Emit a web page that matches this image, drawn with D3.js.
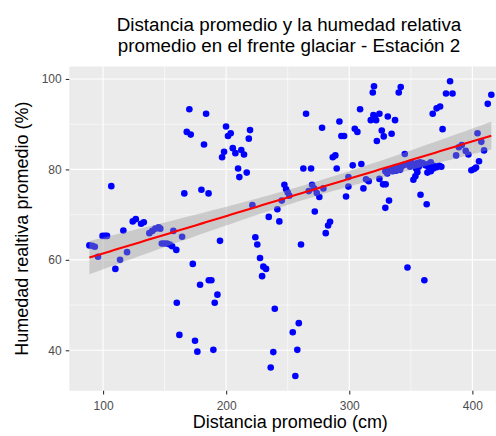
<!DOCTYPE html>
<html>
<head>
<meta charset="utf-8">
<script src="https://cdn.jsdelivr.net/npm/d3@7"></script>
<style>
  body { margin: 0; background: #fff; }
  svg { display: block; font-family: "Liberation Sans", Arial, sans-serif; }
</style>
</head>
<body>
<svg id="chart" width="496" height="436"></svg>
<script>
// distancia promedio (cm) / humedad relativa promedio (%)
var distancia = [170.1,183.7,168.0,171.2,182.0,106.7,166.0,179.9,185.7,124.1,
  126.6,130.9,133.1,116.5,99.6,101.6,103.2,88.9,91.3,93.3,
  95.9,113.8,110.0,119.5,137.6,140.0,142.5,145.2,146.5,147.7,
  149.8,152.0,154.2,156.1,159.5,157.1,164.2,172.9,178.8,185.9,
  159.9,162.0,174.7,176.6,199.9,201.5,203.7,219.4,218.4,198.3,
  196.7,205.4,207.5,212.3,214.5,209.7,210.7,216.7,264.9,277.9,
  292.0,293.6,295.8,286.6,288.7,262.7,269.0,289.8,247.3,248.7,
  250.0,251.3,245.2,269.8,271.4,273.6,275.7,267.1,279.0,221.3,
  234.6,241.6,243.2,272.0,284.4,282.8,280.9,297.4,299.3,320.1,
  319.1,341.8,340.2,381.9,378.6,383.9,415.4,412.5,373.8,371.0,
  367.8,308.8,317.5,319.6,321.8,324.5,320.7,331.3,337.2,304.5,
  306.6,326.4,328.0,334.4,322.4,375.8,404.2,407.3,409.5,405.4,
  399.2,401.4,403.0,386.8,389.0,391.4,394.6,396.8,345.1,302.8,
  309.8,299.3,313.6,315.8,324.5,311.5,327.5,329.6,332.3,329.3,
  357.9,362.9,329.3,331.5,333.7,335.8,338.0,340.2,342.3,344.5,
  346.7,348.8,351.0,353.1,355.3,357.5,359.7,361.8,364.0,366.2,
  368.9,371.0,373.2,374.8,330.9,335.3,338.0,341.3,349.4,354.3,
  356.5,364.6,353.7,355.3,352.1,363.5,366.2,368.3,347.3,361.0,
  195.0,223.7,225.3,260.8,227.5,230.2,232.4,229.2,188.0,192.9,
  190.7,239.5,259.0,254.1,189.6,238.3,257.8,236.2,256.2];

var humedad = [93.3,92.3,88.3,87.7,85.5,76.3,74.7,75.5,74.7,68.5,
  69.0,68.0,68.3,66.5,65.3,65.3,65.3,63.2,63.1,62.9,
  60.7,60.0,58.0,61.7,65.9,66.4,66.9,67.2,66.9,63.6,
  63.6,63.6,63.4,63.0,62.2,66.4,65.1,59.1,54.5,55.5,
  50.5,43.4,42.1,39.7,89.5,87.4,88.0,88.7,86.8,83.9,
  82.7,84.7,83.6,84.3,83.3,80.2,78.3,79.3,92.3,89.2,
  90.6,87.4,87.4,82.7,83.1,80.2,80.2,80.2,76.6,75.6,
  74.9,74.2,73.1,76.6,75.8,74.8,73.9,75.2,75.8,72.1,
  69.5,71.2,68.5,70.7,68.4,67.6,65.9,74.0,76.2,98.4,
  97.0,98.2,97.0,99.5,96.8,96.8,96.5,94.5,93.9,93.5,
  92.3,93.3,90.9,92.0,90.9,92.3,91.7,91.7,90.9,89.0,
  88.3,88.6,87.3,87.9,86.3,88.9,88.0,86.1,84.2,81.8,
  79.8,80.1,80.4,83.1,84.9,85.4,84.1,83.3,83.4,80.9,
  81.2,78.3,77.8,77.4,77.9,75.8,76.7,76.7,73.1,71.5,
  74.4,72.3,79.6,79.9,80.0,80.3,80.5,80.3,80.6,81.0,
  81.2,81.0,81.4,80.9,81.4,81.6,81.4,80.9,81.2,81.6,
  80.8,80.5,80.8,80.6,79.1,79.6,79.7,79.9,80.6,80.2,
  80.6,80.5,78.5,79.4,77.7,79.3,79.6,80.2,58.3,55.5,
  64.2,65.0,63.4,63.4,60.4,58.5,58.0,56.4,55.5,52.3,
  50.5,49.2,46.0,44.0,40.1,39.6,40.1,36.2,34.3];

var xTicks = [100, 200, 300, 400];
var xMinor = [150, 250, 350];
var yTicks = [40, 60, 80, 100];
var yMinor = [50, 70, 90];

var titulo = ["Distancia promedio y la humedad relativa",
              "promedio en el frente glaciar - Estación 2"];
var xTitulo = "Distancia promedio (cm)";
var yTitulo = "Humedad realtiva promedio (%)";

var svg = d3.select("#chart");

var pts = distancia.map(function(d, i) { return { x: d, y: humedad[i] }; });

// ggplot-like 5% expansion
var xExt = d3.extent(distancia), yExt = d3.extent(humedad);
var xPad = (xExt[1] - xExt[0]) * 0.05, yPad = (yExt[1] - yExt[0]) * 0.05;
var x0 = 69.3, y0 = 66.5, y1 = 390.8;
var pxPerX = 1.231;
var x = d3.scaleLinear()
      .domain([xExt[0] - xPad, xExt[1] + xPad])
      .range([x0, x0 + (xExt[1] - xExt[0] + 2 * xPad) * pxPerX]);
var y = d3.scaleLinear()
      .domain([yExt[0] - yPad, yExt[1] + yPad])
      .range([y1, y0]);

var pw = x.range()[1] - x0, ph = y1 - y0;

svg.append("rect")
  .attr("x", x0).attr("y", y0)
  .attr("width", pw).attr("height", ph)
  .attr("fill", "#EBEBEB");

var grid = svg.append("g");
grid.selectAll("line.vmin").data(xMinor).enter().append("line")
  .attr("x1", x).attr("x2", x).attr("y1", y0).attr("y2", y1)
  .attr("stroke", "#fff").attr("stroke-width", 0.55);
grid.selectAll("line.hmin").data(yMinor).enter().append("line")
  .attr("y1", y).attr("y2", y).attr("x1", x0).attr("x2", x0 + pw)
  .attr("stroke", "#fff").attr("stroke-width", 0.55);
grid.selectAll("line.vmaj").data(xTicks).enter().append("line")
  .attr("x1", x).attr("x2", x).attr("y1", y0).attr("y2", y1)
  .attr("stroke", "#fff").attr("stroke-width", 1.1);
grid.selectAll("line.hmaj").data(yTicks).enter().append("line")
  .attr("y1", y).attr("y2", y).attr("x1", x0).attr("x2", x0 + pw)
  .attr("stroke", "#fff").attr("stroke-width", 1.1);

// points
svg.append("g").selectAll("circle")
  .data(pts).enter().append("circle")
  .attr("cx", function(d) { return x(d.x); })
  .attr("cy", function(d) { return y(d.y); })
  .attr("r", 3.3)
  .attr("fill", "#0000FF");

// linear fit + 95% confidence band (geom_smooth method = "lm")
var n = pts.length;
var mx = d3.mean(distancia), my = d3.mean(humedad);
var sxx = d3.sum(distancia, function(d) { return (d - mx) * (d - mx); });
var sxy = d3.sum(pts, function(d) { return (d.x - mx) * (d.y - my); });
var b = sxy / sxx, a = my - b * mx;
var sse = d3.sum(pts, function(d) { var r = d.y - (a + b * d.x); return r * r; });
var s = Math.sqrt(sse / (n - 2));
var tCrit = 1.972;

var fit = d3.range(80).map(function(i) {
  var xv = xExt[0] + (xExt[1] - xExt[0]) * i / 79;
  var yv = a + b * xv;
  var se = s * Math.sqrt(1 / n + (xv - mx) * (xv - mx) / sxx);
  return { x: xv, y: yv, lo: yv - tCrit * se, hi: yv + tCrit * se };
});

svg.append("path")
  .datum(fit)
  .attr("d", d3.area()
    .x(function(d) { return x(d.x); })
    .y0(function(d) { return y(d.lo); })
    .y1(function(d) { return y(d.hi); }))
  .attr("fill", "#999999")
  .attr("fill-opacity", 0.4);

svg.append("path")
  .datum(fit)
  .attr("d", d3.line()
    .x(function(d) { return x(d.x); })
    .y(function(d) { return y(d.y); }))
  .attr("fill", "none")
  .attr("stroke", "#FF0000")
  .attr("stroke-width", 2.1);

// axes
var xAxis = svg.append("g")
  .attr("transform", "translate(0," + y1 + ")")
  .call(d3.axisBottom(x).tickValues(xTicks).tickSize(3.6).tickPadding(6.6));
var yAxis = svg.append("g")
  .attr("transform", "translate(" + x0 + ",0)")
  .call(d3.axisLeft(y).tickValues(yTicks).tickSize(3.6).tickPadding(4));

[xAxis, yAxis].forEach(function(g) {
  g.select(".domain").remove();
  g.selectAll(".tick line").attr("stroke", "#333333").attr("stroke-width", 1.1);
  g.selectAll(".tick text")
    .attr("fill", "#4D4D4D")
    .style("font-size", "12px")
    .style("font-family", "Liberation Sans, Arial, sans-serif");
});

// titles
var cx = 289;
svg.append("g").selectAll("text")
  .data(titulo).enter().append("text")
  .attr("x", cx)
  .attr("y", function(d, i) { return 30.5 + i * 21; })
  .attr("text-anchor", "middle")
  .style("font-size", "18.8px")
  .attr("fill", "#000")
  .text(function(d) { return d; });

svg.append("text")
  .attr("x", x0 + pw / 2).attr("y", 428)
  .attr("text-anchor", "middle")
  .style("font-size", "18px")
  .text(xTitulo);

svg.append("text")
  .attr("transform", "translate(28," + (y0 + ph / 2) + ") rotate(-90)")
  .attr("text-anchor", "middle")
  .style("font-size", "18px")
  .text(yTitulo);
</script>
</body>
</html>
